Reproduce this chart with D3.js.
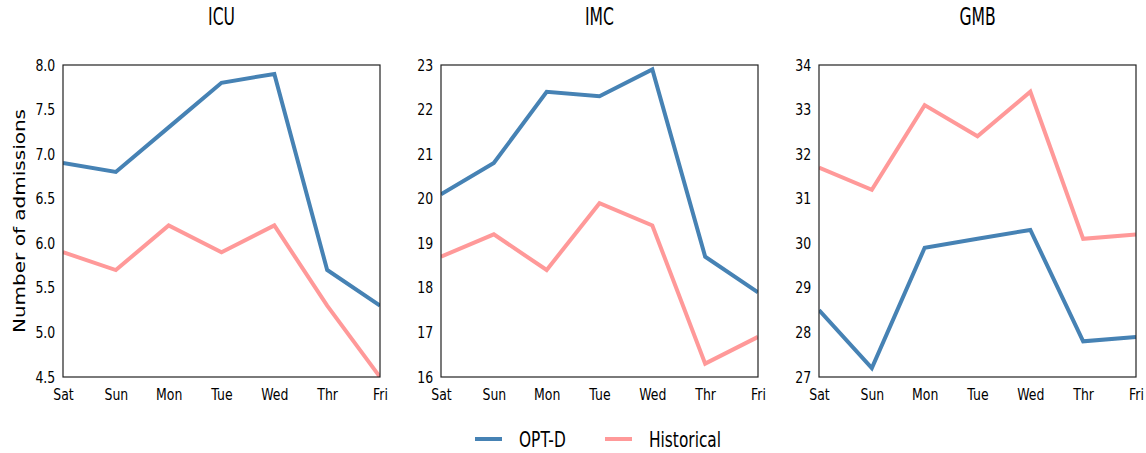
<!DOCTYPE html>
<html>
<head>
<meta charset="utf-8">
<script src="https://cdn.jsdelivr.net/npm/d3@7"></script>
<style>
  body { margin: 0; background: #fff; }
  text { font-family: "DejaVu Sans", sans-serif; font-weight: normal; fill: #000; }
</style>
</head>
<body>
<svg id="chart" width="1146" height="453"></svg>
<script>
var days = ['Sat', 'Sun', 'Mon', 'Tue', 'Wed', 'Thr', 'Fri'];
var units = ['ICU', 'IMC', 'GMB'];
var seriesNames = ['OPT-D', 'Historical'];
var colors = ['#4682b4', '#ff9999'];

var icuOpt = [6.9, 6.8, 7.3, 7.8, 7.9, 5.7, 5.3];
var icuHist = [5.9, 5.7, 6.2, 5.9, 6.2, 5.3, 4.5];
var imcOpt = [20.1, 20.8, 22.4, 22.3, 22.9, 18.7, 17.9];
var imcHist = [18.7, 19.2, 18.4, 19.9, 19.4, 16.3, 16.9];
var gmbOpt = [28.5, 27.2, 29.9, 30.1, 30.3, 27.8, 27.9];
var gmbHist = [31.7, 31.2, 33.1, 32.4, 33.4, 30.1, 30.2];

var yDomains = [[4.5, 8.0], [16, 23], [27, 34]];
var yTicks = [d3.range(4.5, 8.01, 0.5), d3.range(16, 23.1, 1), d3.range(27, 34.1, 1)];
var yFormats = [d3.format('.1f'), d3.format('d'), d3.format('d')];
var panelData = [[icuOpt, icuHist], [imcOpt, imcHist], [gmbOpt, gmbHist]];

var svg = d3.select('#chart');
var lefts = [63, 441, 819];
var w = 317, h = 312, panelTop = 65;

// the source picture is squeezed sideways, so text is narrowed to match
var tickSquash = 0.78, bigSquash = 0.65;

var line = d3.line();

units.forEach(function(u, p) {
	var g = svg.append('g').attr('transform', 'translate(' + lefts[p] + ',' + panelTop + ')');

	var x = d3.scalePoint().domain(days).range([0, w]);
	var y = d3.scaleLinear().domain(yDomains[p]).range([h, 0]);

	g.append('clipPath').attr('id', 'clip' + p)
		.append('rect').attr('width', w).attr('height', h);

	g.append('g').call(d3.axisLeft(y).tickValues(yTicks[p]).tickFormat(yFormats[p]).tickSize(0).tickPadding(10))
		.call(function(a) {
			a.select('.domain').remove();
			a.selectAll('text').style('font-size', '16px').attr('transform', 'scale(' + tickSquash + ',1)');
		});
	g.append('g').attr('transform', 'translate(0,' + h + ')')
		.call(d3.axisBottom(x).tickSize(0).tickPadding(12))
		.call(function(a) {
			a.select('.domain').remove();
			a.selectAll('text').style('font-size', '16px').attr('transform', 'scale(' + tickSquash + ',1)');
		});

	panelData[p].forEach(function(vals, s) {
		g.append('path')
			.datum(vals)
			.attr('clip-path', 'url(#clip' + p + ')')
			.attr('fill', 'none')
			.attr('stroke', colors[s])
			.attr('stroke-width', 4)
			.attr('d', line.x(function(d, i) { return x(days[i]); }).y(function(d) { return y(d); }));
	});

	g.append('rect').attr('width', w).attr('height', h)
		.attr('fill', 'none').attr('stroke', '#222').attr('stroke-width', 1.2);

	g.append('text')
		.attr('transform', 'translate(' + (w / 2) + ',-40) scale(' + bigSquash + ',1)')
		.attr('text-anchor', 'middle').style('font-size', '24px').text(u);
});

svg.append('text')
	.attr('transform', 'translate(25,' + (panelTop + h / 2) + ') rotate(-90) scale(1,0.8)')
	.attr('text-anchor', 'middle')
	.style('font-size', '20px')
	.text('Number of admissions');

// legend
var legX = [475, 605];
seriesNames.forEach(function(n, s) {
	svg.append('line').attr('x1', legX[s]).attr('x2', legX[s] + 27)
		.attr('y1', 439).attr('y2', 439)
		.attr('stroke', colors[s]).attr('stroke-width', 4);
	svg.append('text')
		.attr('transform', 'translate(' + (legX[s] + 44) + ',447) scale(0.7,1)')
		.style('font-size', '22px').text(n);
});
</script>
</body>
</html>
